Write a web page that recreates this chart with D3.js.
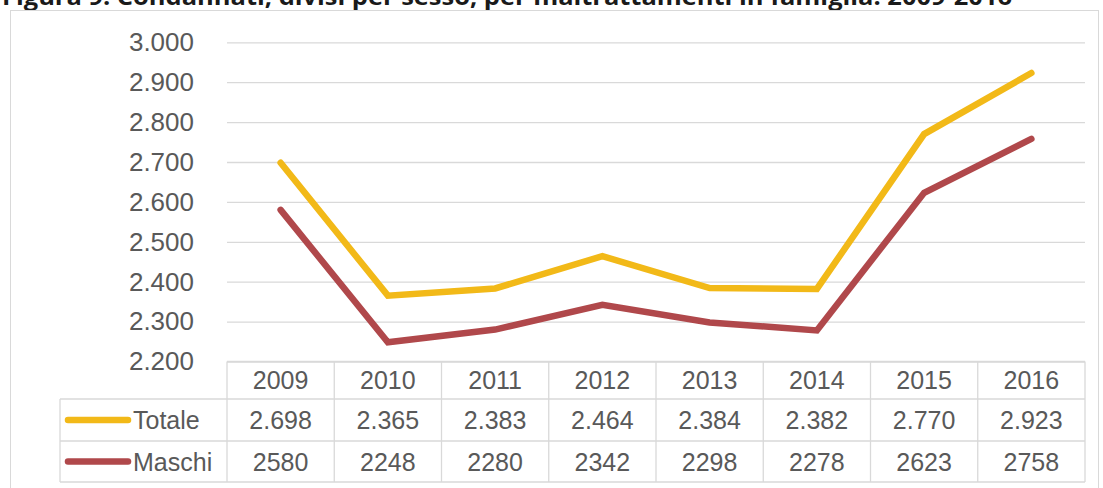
<!DOCTYPE html>
<html><head><meta charset="utf-8">
<script src="https://cdn.jsdelivr.net/npm/d3@7"></script>
<style>body{margin:0;background:#fff;overflow:hidden}</style>
</head><body><svg id="c" width="1103" height="488"></svg>
<script>
const years = ["2009","2010","2011","2012","2013","2014","2015","2016"];
const totale = [2698,2365,2383,2464,2384,2382,2770,2923];
const maschi = [2580,2248,2280,2342,2298,2278,2623,2758];
const totaleLabels = ["2.698","2.365","2.383","2.464","2.384","2.382","2.770","2.923"];
const maschiLabels = ["2580","2248","2280","2342","2298","2278","2623","2758"];
const yTicks = [2200,2300,2400,2500,2600,2700,2800,2900,3000];
const seriesNames = ["Totale","Maschi"];
const seriesColors = ["#F2B918","#B0484B"];
const titleText = "Figura 9: Condannati, divisi per sesso, per maltrattamenti in famiglia. 2009-2016";

(function(){
const svg = d3.select("#c");
const font = "'Liberation Sans', Arial, sans-serif";
const textCol = "#595959";
const gridCol = "#d9d9d9";

// title (cut off at top, as in the reference)
svg.append("text").attr("x",2).attr("y",5)
  .attr("font-family","'Open Sans', sans-serif").attr("font-weight","bold")
  .attr("font-size",24).attr("fill","#1a1a1a")
  .attr("textLength",1010).attr("lengthAdjust","spacingAndGlyphs").text(titleText);

// outer box
svg.append("rect").attr("x",10.5).attr("y",10.5).attr("width",1088).attr("height",500)
  .attr("fill","none").attr("stroke","#d9d9d9").attr("stroke-width",1);

const pLeft = 227, pRight = 1085, pTop = 42.3, pBottom = 361.5;
const x = d3.scaleBand().domain(years).range([pLeft,pRight]);
const y = d3.scaleLinear().domain([2200,3000]).range([pBottom,pTop]);
const loc = d3.formatLocale({decimal:",",thousands:".",grouping:[3],currency:["","€"]});

const ax = svg.append("g").attr("transform",`translate(${pLeft},0)`)
  .call(d3.axisLeft(y).tickValues(yTicks).tickFormat(loc.format(","))
    .tickSizeInner(-(pRight-pLeft)).tickSizeOuter(0).tickPadding(33));
ax.select(".domain").remove();
ax.selectAll(".tick line").attr("stroke",gridCol).attr("stroke-width",1.3);
ax.selectAll(".tick text").attr("font-family",font).attr("font-size",26).attr("fill",textCol);

// lines
const line = d3.line().x((d,i)=>x(years[i])+x.bandwidth()/2).y(d=>y(d));
[totale,maschi].forEach((s,k)=>{
  svg.append("path").datum(s).attr("d",line).attr("fill","none")
    .attr("stroke",seriesColors[k]).attr("stroke-width",6.5)
    .attr("stroke-linecap","round").attr("stroke-linejoin","miter");
});

// data table
const rowY = [361.5, 399, 441, 482];
const tLeft = 60;
const tg = svg.append("g").attr("stroke",gridCol).attr("stroke-width",1.3);
tg.append("line").attr("x1",pLeft).attr("x2",pRight).attr("y1",rowY[0]).attr("y2",rowY[0]);
[1,2,3].forEach(i=>tg.append("line").attr("x1",tLeft).attr("x2",pRight).attr("y1",rowY[i]).attr("y2",rowY[i]));
years.forEach(yr=>tg.append("line").attr("x1",x(yr)).attr("x2",x(yr)).attr("y1",rowY[0]).attr("y2",rowY[3]));
tg.append("line").attr("x1",pRight).attr("x2",pRight).attr("y1",rowY[0]).attr("y2",rowY[3]);
tg.append("line").attr("x1",tLeft).attr("x2",tLeft).attr("y1",rowY[1]).attr("y2",rowY[3]);

const cellText = (tx,ty,t,anchor)=>svg.append("text").attr("x",tx).attr("y",ty)
  .attr("dy","0.36em").attr("text-anchor",anchor||"middle")
  .attr("font-family",font).attr("font-size",25).attr("fill",textCol).text(t);

years.forEach((yr,i)=>{
  const cx = x(yr)+x.bandwidth()/2;
  cellText(cx,(rowY[0]+rowY[1])/2,yr);
  cellText(cx,(rowY[1]+rowY[2])/2,totaleLabels[i]);
  cellText(cx,(rowY[2]+rowY[3])/2,maschiLabels[i]);
});
seriesNames.forEach((n,k)=>{
  const cy = (rowY[k+1]+rowY[k+2])/2;
  svg.append("line").attr("x1",68).attr("x2",128).attr("y1",cy).attr("y2",cy)
    .attr("stroke",seriesColors[k]).attr("stroke-width",6.5).attr("stroke-linecap","round");
  cellText(133,cy,n,"start");
});
})();
</script></body></html>
